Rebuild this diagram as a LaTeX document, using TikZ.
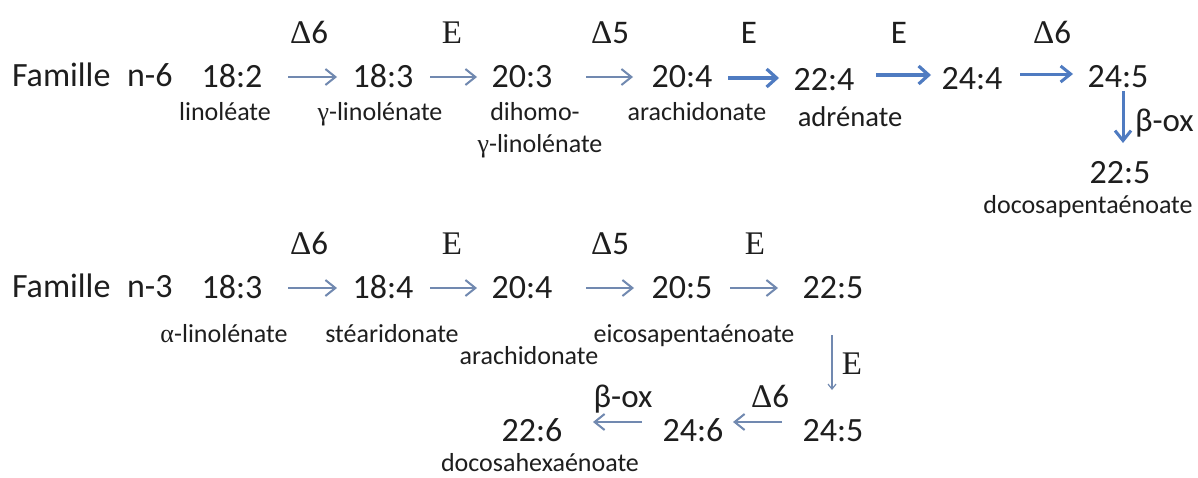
\documentclass[tikz,border=0pt]{standalone}
\usepackage{fontspec}
\setmainfont{Carlito}
\newfontfamily\serifgr{Liberation Serif}
\usetikzlibrary{arrows.meta}
\definecolor{arrthin}{HTML}{7189B0}
\definecolor{arrthick}{HTML}{4F7BC1}
\definecolor{txt}{HTML}{1E1E1E}
\begin{document}
\begin{tikzpicture}[x=0.5pt,y=-0.5pt,
  every node/.style={inner sep=0pt,outer sep=0pt,text=txt},
  num/.style={font=\fontsize{17}{19}\selectfont, anchor=base},
  lab/.style={font=\fontsize{13}{15}\selectfont, anchor=base},
  enz/.style={font=\fontsize{16.5}{18}\selectfont, anchor=base},
  thinarr/.style={draw=arrthin, line width=1pt, -{Straight Barb[length=5pt,width=8pt,line width=1pt]}},
  medarr/.style={draw=arrthick, line width=1.5pt, -{Straight Barb[length=5pt,width=8pt,line width=1.5pt]}},
  thickarr/.style={draw=arrthick, line width=2pt, -{Straight Barb[length=5pt,width=9pt,line width=1.6pt]}},
  hairarr/.style={draw=arrthin, line width=0.6pt, -{Straight Barb[length=2.5pt,width=4pt,line width=0.6pt]}},
]
\useasboundingbox (0,0) rectangle (1198,477);
\fill[white] (0,0) rectangle (1198,477);

% ---------- famille n-6 ----------
\node[num, anchor=base west] (fam6) at (12,86) {Famille};
\node[num, anchor=base west] (n6) at (127,86) {n-6};
\node[num] (a182) at (232,87) {18:2};
\node[num] (a183) at (383,87) {18:3};
\node[num] (a203) at (522,87) {20:3};
\node[num] (a204) at (682,87) {20:4};
\node[num] (a224) at (824,90) {22:4};
\node[num] (a244) at (972,89) {24:4};
\node[num] (a245) at (1118,87) {24:5};
\node[num] (a225) at (1120,183) {22:5};

\node[enz] (ea1) at (309,43) {{\serifgr Δ}6};
\node[enz] (ea2) at (452,43) {\serifgr E};
\node[enz] (ea3) at (610,43) {{\serifgr Δ}5};
\node[enz] (ea4) at (749,43) {E};
\node[enz] (ea5) at (899,43) {E};
\node[enz] (ea6) at (1052,43) {{\serifgr Δ}6};
\node[enz, anchor=base west] (ea7) at (1135,131) {β-ox};

\node[lab] (la1) at (225,120) {linoléate};
\node[lab] (la2) at (380,120) {{\serifgr γ}-linolénate};
\node[lab] (la3) at (535,120) {dihomo-};
\node[lab] (la3b) at (540,152) {{\serifgr γ}-linolénate};
\node[lab] (la4) at (697,120) {arachidonate};
\node[lab, font=\fontsize{14.3}{16}\selectfont] (la5) at (850,126) {adrénate};
\node[lab] (la6) at (1088,213) {docosapentaénoate};

\coordinate (p1s) at (288,77); \coordinate (p1e) at (337,77);
\coordinate (p2s) at (430,77); \coordinate (p2e) at (477,77);
\coordinate (p3s) at (586,77); \coordinate (p3e) at (633,77);
\coordinate (p4s) at (728,78); \coordinate (p4e) at (779,78);
\coordinate (p5s) at (876,75); \coordinate (p5e) at (931,75);
\coordinate (p6s) at (1020,74); \coordinate (p6e) at (1073,74);
\coordinate (p7s) at (1123,91); \coordinate (p7e) at (1123,143);
\draw[thinarr] (p1s) -- (p1e);
\draw[thinarr] (p2s) -- (p2e);
\draw[thinarr] (p3s) -- (p3e);
\draw[thickarr] (p4s) -- (p4e);
\draw[thickarr] (p5s) -- (p5e);
\draw[medarr] (p6s) -- (p6e);
\draw[medarr] (p7s) -- (p7e);

% ---------- famille n-3 ----------
\node[num, anchor=base west] (fam3) at (12,297) {Famille};
\node[num, anchor=base west] (n3) at (127,297) {n-3};
\node[num] (b183) at (232,298) {18:3};
\node[num] (b184) at (383,298) {18:4};
\node[num] (b204) at (522,298) {20:4};
\node[num] (b205) at (682,298) {20:5};
\node[num] (b225) at (833,298) {22:5};
\node[num] (b245) at (833,441) {24:5};
\node[num] (b246) at (693,441) {24:6};
\node[num] (b226) at (532,441) {22:6};

\node[enz] (eb1) at (309,254) {{\serifgr Δ}6};
\node[enz] (eb2) at (452,254) {\serifgr E};
\node[enz] (eb3) at (610,254) {{\serifgr Δ}5};
\node[enz] (eb4) at (755,254) {\serifgr E};
\node[enz] (eb5) at (852,374) {\serifgr E};
\node[enz] (eb6) at (770,407) {{\serifgr Δ}6};
\node[enz] (eb7) at (623,407) {β-ox};

\node[lab] (lb1) at (224,342) {{\serifgr α}-linolénate};
\node[lab] (lb2) at (392,342) {stéaridonate};
\node[lab] (lb3) at (529,364) {arachidonate};
\node[lab] (lb4) at (694,342) {eicosapentaénoate};
\node[lab] (lb5) at (540,471) {docosahexaénoate};

\coordinate (q1s) at (288,288); \coordinate (q1e) at (337,288);
\coordinate (q2s) at (430,288); \coordinate (q2e) at (477,288);
\coordinate (q3s) at (586,288); \coordinate (q3e) at (634,288);
\coordinate (q4s) at (730,288); \coordinate (q4e) at (778,288);
\coordinate (q5s) at (832,335); \coordinate (q5e) at (832,390);
\coordinate (q6s) at (782,422); \coordinate (q6e) at (733,422);
\coordinate (q7s) at (642,422); \coordinate (q7e) at (593,422);
\draw[thinarr] (q1s) -- (q1e);
\draw[thinarr] (q2s) -- (q2e);
\draw[thinarr] (q3s) -- (q3e);
\draw[thinarr] (q4s) -- (q4e);
\draw[hairarr] (q5s) -- (q5e);
\draw[thinarr] (q6s) -- (q6e);
\draw[thinarr] (q7s) -- (q7e);
\end{tikzpicture}
\end{document}
